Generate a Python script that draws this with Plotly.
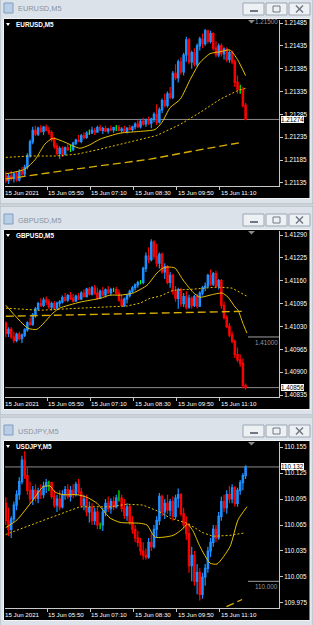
import plotly.graph_objects as go

W, H = 313, 625
def px(x): return x / W
def py(y): return 1 - y / H

# ---------------- data ----------------
window_titles = ["EURUSD,M5", "GBPUSD,M5", "USDJPY,M5"]
time_labels = ["15 Jun 2021", "15 Jun 05:50", "15 Jun 07:10", "15 Jun 08:30", "15 Jun 09:50", "15 Jun 11:10"]
time_label_bars = [0, 16, 32, 48, 64, 80]

# EURUSD M5, values in points (0.00001) above 1.21000
eur_base, eur_unit = 1.21000, 0.00001
eur_open = [150,140,150,145,155,142,160,155,170,195, 225,250,242,255,248,257,250,245,230,215,
            200,210,198,212,208,208,222,229,226,238, 235,244,244,250,246,256,250,254,249,253,
            251,256,256,250,253,248,255,252,258,264, 258,270,264,272,266,275,285,268,295,315,
            305,330,322,375,365,400,378,415,448,400, 420,395,435,450,440,468,445,462,430,415,
            435,418,428,405,420,400,355,340,340,305]
eur_high = [160,155,162,158,160,165,170,175,200,230, 258,260,258,262,260,263,258,250,235,222,
            215,215,215,220,218,225,232,240,242,246, 248,252,258,256,260,262,258,260,256,261,
            258,262,262,257,260,257,262,260,268,272, 275,278,276,280,278,290,307,300,320,330,
            335,345,380,395,405,410,420,455,452,425, 430,440,455,462,472,470,468,465,445,440,
            440,432,432,425,425,405,370,350,345,310]
eur_low = [135,133,140,136,138,138,150,150,165,190, 220,238,238,245,240,248,240,225,210,195,
           188,192,195,205,203,205,218,224,222,230, 232,240,243,240,245,248,242,246,243,248,
           245,249,248,244,246,243,250,247,252,255, 254,260,258,262,255,268,262,265,288,300,
           300,318,318,360,355,372,370,400,395,385, 390,390,425,430,435,440,440,425,410,410,
           412,405,400,398,395,345,330,330,300,272]
eur_close = [140,150,145,155,142,160,155,170,195,225, 250,242,255,248,257,250,245,230,215,200,
             210,198,212,208,208,222,229,226,238,235, 244,244,250,246,256,250,254,249,253,251,
             256,256,250,253,248,255,252,258,264,258, 270,264,272,266,275,285,268,295,315,305,
             330,322,375,365,400,378,415,448,400,420, 395,435,450,440,468,445,462,430,415,435,
             418,428,405,420,400,355,340,340,305,274]
eur_fast_bar = [0, 7, 11, 14.5, 17.5, 22, 27.5, 31, 35, 42.4, 50, 55.4, 58, 61, 64.7, 68.4, 72, 75.8, 79.5, 83.2, 86, 89]
eur_fast_pts = [155, 165, 187, 220, 233, 224, 211, 218, 231, 244, 248, 252, 268, 300, 318, 361, 398, 418, 422, 426, 405, 370]
eur_mid_bar = [0, 9, 18.3, 26.4, 35, 47.2, 56, 64.7, 72, 79.5, 86, 89]
eur_mid_pts = [191, 194, 194, 198, 209, 226, 239, 263, 289, 318, 337, 342]
eur_slow_bar = [0, 5.3, 22.7, 38.7, 53.5, 69.5, 87.7]
eur_slow_pts = [144, 148, 163, 176, 187, 205, 224]
eur_ticks = [1.21135, 1.21185, 1.21235, 1.21285, 1.21335, 1.21385, 1.21435, 1.21485]
eur_tick_text = ["1.21135", "1.21185", "1.21235", "1.21285", "1.21335", "1.21385", "1.21435", "1.21485"]
eur_range = [1.211284, 1.214916]
eur_bid, eur_bid_text = 1.21274, "1.21274"
eur_level, eur_level_text = 1.21500, "1.21500"

# GBPUSD M5, points above 1.40800
gbp_base, gbp_unit = 1.40800, 0.00001
gbp_open = [239,210,222,200,190,208,195,205,220,240, 236,262,280,295,290,305,300,285,295,282,
            296,300,312,305,318,310,302,316,308,325, 315,336,322,340,325,310,330,320,334,326,
            335,335,325,305,290,308,318,330,340,348, 355,355,395,430,420,470,430,410,435,385,
            400,355,375,330,310,335,295,315,285,310, 290,315,288,325,340,345,375,350,380,345,
            360,290,255,230,205,188,150,135,125,62]
gbp_high = [245,228,228,215,212,215,210,225,245,255, 268,285,300,310,312,315,308,300,302,300,
            305,318,325,322,328,322,320,325,330,335, 340,342,345,348,340,335,342,338,345,340,
            340,342,335,320,312,322,335,345,352,360, 362,400,440,455,478,475,465,440,440,410,
            405,385,380,345,340,340,325,330,320,315, 320,322,330,345,355,380,392,385,388,365,
            365,300,262,240,215,192,170,150,139,68]
gbp_low = [199,200,195,182,185,190,183,200,215,232, 232,255,275,285,285,290,280,275,278,278,
           285,295,300,300,305,298,300,305,305,312, 312,318,318,320,305,308,315,312,322,318,
           328,320,300,285,285,295,312,325,332,340, 350,350,385,410,415,420,400,395,380,365,
           350,340,320,300,280,285,285,278,280,280, 285,282,285,318,330,340,345,345,340,335,
           280,250,225,200,182,140,128,115,54,50]
gbp_close = [210,222,200,190,208,195,205,220,240,236, 262,280,295,290,305,300,285,295,282,296,
             300,312,305,318,310,302,316,308,325,315, 336,322,340,325,310,330,320,334,326,335,
             335,325,305,290,308,318,330,340,348,355, 355,395,430,420,470,430,410,435,385,400,
             355,375,330,310,335,295,315,285,310,290, 315,288,325,340,345,375,350,380,345,360,
             290,255,230,205,188,150,135,125,62,56]
gbp_fast_bar = [0, 8.2, 11.6, 17.5, 20, 27.5, 35, 38.7, 42.4, 47.2, 52.4, 56.1, 58.4, 60.2, 62.8, 65.8, 69.5, 72.1, 75.8, 80.3, 82.5, 85.1, 86.2, 88, 89.5]
gbp_fast_pts = [290, 225, 222, 268, 282, 299, 310, 319, 319, 325, 347, 382, 396, 399, 396, 362, 327, 313, 319, 325, 313, 285, 276, 239, 211]
gbp_mid_bar = [0, 12.7, 27.5, 45, 49.8, 53.5, 57.2, 62.1, 69.5, 78.4, 84, 89.5]
gbp_mid_pts = [282, 276, 282, 288, 296, 310, 316, 333, 336, 342, 339, 316]
gbp_slow_bar = [0, 20, 42.4, 64.7, 78.4, 87.7]
gbp_slow_pts = [259, 262, 265, 268, 270, 273]
gbp_ticks = [1.40835, 1.40900, 1.40965, 1.41030, 1.41095, 1.41160, 1.41225, 1.41290]
gbp_tick_text = ["1.40835", "1.40900", "1.40965", "1.41030", "1.41095", "1.41160", "1.41225", "1.41290"]
gbp_range = [1.408293, 1.413014]
gbp_bid, gbp_bid_text = 1.40856, "1.40856"
gbp_level, gbp_level_text = 1.41000, "1.41000"

# USDJPY M5, points (0.001) above 109.900
jpy_base, jpy_unit = 109.900, 0.001
jpy_open = [190,170,160,172,188,200,215,240,222,205, 195,205,196,204,200,210,214,214,198,188,
            195,186,200,206,198,205,200,212,203,188, 195,180,185,170,180,165,165,180,190,184,
            192,186,196,196,184,176,186,168,160,150, 145,135,130,128,145,140,160,170,198,180,
            190,182,192,175,196,200,178,165,155,118, 130,100,110,85,105,115,135,145,160,150,
            175,192,185,200,195,208,190,205,214,222]
jpy_high = [197,185,175,192,205,220,245,250,232,215, 210,212,208,212,215,218,216,215,205,200,
            205,205,210,212,210,212,215,218,208,200, 200,192,190,185,185,168,185,195,198,196,
            198,200,205,200,195,190,188,175,165,158, 150,145,138,150,155,165,175,202,200,195,
            200,195,198,200,207,202,185,175,167,140, 135,120,115,110,120,140,150,165,165,180,
            198,200,205,210,212,210,208,217,225,234]
jpy_low = [165,152,150,168,182,194,212,218,200,190, 188,192,190,195,196,202,204,195,185,180,
           182,184,194,195,192,196,198,200,185,182, 175,168,165,165,160,160,158,175,180,178,
           182,184,192,180,172,170,165,155,145,140, 130,125,125,126,135,138,150,165,175,172,
           178,175,170,172,185,175,160,148,110,100, 95,85,78,80,95,110,128,140,145,148,
           170,180,178,190,190,186,186,200,205,218]
jpy_close = [170,160,172,188,200,215,240,222,205,195, 205,196,204,200,210,214,214,198,188,195,
             186,200,206,198,205,200,212,203,188,195, 180,185,170,180,165,165,180,190,184,192,
             186,196,196,184,176,186,168,160,150,145, 135,130,128,145,140,160,170,198,180,190,
             182,192,175,196,200,178,165,155,118,130, 100,110,85,105,115,135,145,160,150,175,
             192,185,200,195,208,190,205,214,222,232]
jpy_fast_bar = [0, 4.2, 10.1, 13.8, 16.4, 18.3, 21.2, 26.4, 30.1, 33.9, 36.1, 38.7, 42.4, 49.8, 52.4, 55.4, 62.1, 65.4, 67.5, 69.5, 72.1, 75.8, 78.4, 83.2, 86.2, 89.5]
jpy_fast_pts = [162, 171, 194, 209, 210, 203, 200, 200, 197, 190, 182, 173, 168, 167, 165, 151, 153, 160, 166, 158, 140, 121, 120, 140, 171, 186]
jpy_mid_bar = [0, 1.6, 15.3, 27.5, 38.7, 45, 50.9, 57.2, 61, 67.3, 73.2, 76.9, 83.2, 88.8]
jpy_mid_pts = [154, 156, 172, 186, 186, 189, 188, 180, 173, 167, 156, 152, 153, 156]
jpy_slow_bar = [74, 80.6, 87.7]
jpy_slow_pts = [58, 69, 79]
jpy_ticks = [109.975, 110.005, 110.035, 110.065, 110.095, 110.125, 110.155]
jpy_tick_text = ["109.975", "110.005", "110.035", "110.065", "110.095", "110.125", "110.155"]
jpy_range = [109.9692, 110.1608]
jpy_bid, jpy_bid_text = 110.132, "110.132"
jpy_level, jpy_level_text = 110.000, "110.000"

# ---------------- styling ----------------
BULL = "#1E90FF"
BEAR = "#FF0000"
DOJI = "#00FF00"
MA_FAST = "#E8C000"
MA_MID = "#E8C000"
MA_SLOW = "#D9AE00"
AXIS = "#C8C8C8"
FONT = "Liberation Sans"
FRAME = "#DCE2E9"
GAP = "#F2F2F2"

windows = [
    dict(title=window_titles[0], base=eur_base, unit=eur_unit, o=eur_open, h=eur_high, l=eur_low, c=eur_close,
         fast=(eur_fast_bar, eur_fast_pts), mid=(eur_mid_bar, eur_mid_pts), slow=(eur_slow_bar, eur_slow_pts),
         ticks=eur_ticks, tick_text=eur_tick_text, rng=eur_range, bid=eur_bid, bid_text=eur_bid_text,
         level=eur_level, level_text=eur_level_text),
    dict(title=window_titles[1], base=gbp_base, unit=gbp_unit, o=gbp_open, h=gbp_high, l=gbp_low, c=gbp_close,
         fast=(gbp_fast_bar, gbp_fast_pts), mid=(gbp_mid_bar, gbp_mid_pts), slow=(gbp_slow_bar, gbp_slow_pts),
         ticks=gbp_ticks, tick_text=gbp_tick_text, rng=gbp_range, bid=gbp_bid, bid_text=gbp_bid_text,
         level=gbp_level, level_text=gbp_level_text),
    dict(title=window_titles[2], base=jpy_base, unit=jpy_unit, o=jpy_open, h=jpy_high, l=jpy_low, c=jpy_close,
         fast=(jpy_fast_bar, jpy_fast_pts), mid=(jpy_mid_bar, jpy_mid_pts), slow=(jpy_slow_bar, jpy_slow_pts),
         ticks=jpy_ticks, tick_text=jpy_tick_text, rng=jpy_range, bid=jpy_bid, bid_text=jpy_bid_text,
         level=jpy_level, level_text=jpy_level_text),
]

fig = go.Figure()
shapes, annotations = [], []
layout_axes = {}
STEP = 211

for k, wdef in enumerate(windows):
    dy = STEP * k
    xa = "x" if k == 0 else f"x{k+1}"
    ya = "y" if k == 0 else f"y{k+1}"
    xkey = "xaxis" if k == 0 else f"xaxis{k+1}"
    ykey = "yaxis" if k == 0 else f"yaxis{k+1}"
    top, bottom = 20 + dy, 186 + dy
    conv = lambda arr, b=wdef["base"], u=wdef["unit"]: [b + v * u for v in arr]
    o, h, l, c = conv(wdef["o"]), conv(wdef["h"]), conv(wdef["l"]), conv(wdef["c"])
    n = len(o)
    normal = [i for i in range(n) if wdef["o"][i] != wdef["c"][i]]
    doji = [i for i in range(n) if wdef["o"][i] == wdef["c"][i]]

    # window chrome (below traces)
    shapes.append(dict(type="rect", xref="paper", yref="paper", layer="below",
                       x0=px(0), x1=px(313), y0=py(-5 + dy), y1=py(204 + dy),
                       fillcolor=FRAME, line=dict(color="#A7B1BC", width=1)))
    shapes.append(dict(type="rect", xref="paper", yref="paper", layer="below",
                       x0=px(3.5), x1=px(310), y0=py(18.5 + dy), y1=py(198.5 + dy),
                       fillcolor="black", line=dict(color="#F4F4F4", width=1)))
    # title icon
    shapes.append(dict(type="rect", xref="paper", yref="paper", layer="below",
                       x0=px(4), x1=px(13), y0=py(3 + dy), y1=py(13 + dy),
                       fillcolor="#B9CEE4", line=dict(color="#7F9CBF", width=1)))
    # title buttons
    for bx0, bx1 in [(243, 264), (266, 287), (289, 310)]:
        shapes.append(dict(type="rect", xref="paper", yref="paper", layer="below",
                           x0=px(bx0), x1=px(bx1), y0=py(3 + dy), y1=py(15 + dy),
                           fillcolor="#EEF1F4", line=dict(color="#9BA6B2", width=1)))
    shapes.append(dict(type="rect", xref="paper", yref="paper", layer="below",
                       x0=px(250), x1=px(258), y0=py(10 + dy), y1=py(12 + dy),
                       fillcolor="#6E7884", line=dict(width=0)))
    shapes.append(dict(type="rect", xref="paper", yref="paper", layer="below",
                       x0=px(273), x1=px(280), y0=py(6 + dy), y1=py(12 + dy),
                       fillcolor="rgba(0,0,0,0)", line=dict(color="#6E7884", width=1)))
    for (a0, b0, a1, b1) in [(296, 5.5, 303, 12.5), (296, 12.5, 303, 5.5)]:
        shapes.append(dict(type="line", xref="paper", yref="paper", layer="below",
                           x0=px(a0), y0=py(b0 + dy), x1=px(a1), y1=py(b1 + dy),
                           line=dict(color="#6E7884", width=1.5)))
    annotations.append(dict(text=wdef["title"], xref="paper", yref="paper", x=px(16), y=py(9 + dy),
                            xanchor="left", yanchor="middle", showarrow=False,
                            font=dict(family=FONT, size=7.4, color="#8593A3")))
    # chart label
    shapes.append(dict(type="path", xref="paper", yref="paper",
                       path=f"M {px(6)},{py(23 + dy)} L {px(10)},{py(23 + dy)} L {px(8)},{py(26 + dy)} Z",
                       fillcolor="white", line=dict(width=0)))
    annotations.append(dict(text="<b>" + wdef["title"] + "</b>", xref="paper", yref="paper", x=px(13.5), y=py(25 + dy),
                            xanchor="left", yanchor="middle", showarrow=False,
                            font=dict(family=FONT, size=6.4, color="white")))
    # shift marker
    shapes.append(dict(type="path", xref="paper", yref="paper",
                       path=f"M {px(248)},{py(top)} L {px(255)},{py(top)} L {px(251.5)},{py(top + 3.5)} Z",
                       fillcolor="#8A8A8A", line=dict(width=0)))

    # bid line
    shapes.append(dict(type="line", xref=f"{xa} domain", yref=ya, x0=0, x1=1,
                       y0=wdef["bid"], y1=wdef["bid"], line=dict(color="#8C8C8C", width=1), layer="below"))
    # level line segment and its label
    lo, hi = wdef["rng"]
    if lo <= wdef["level"] <= hi:
        shapes.append(dict(type="line", xref="paper", yref=ya, x0=px(248), x1=px(279),
                           y0=wdef["level"], y1=wdef["level"], line=dict(color="#A0A0A0", width=1)))
        annotations.append(dict(text=wdef["level_text"], xref="paper", yref=ya, x=px(280), y=wdef["level"],
                                yshift=-5.5, xanchor="right", yanchor="middle", showarrow=False,
                                font=dict(family=FONT, size=6.3, color="#9A9A9A")))
    else:
        # line lies just above the visible range; MT4 still shows its label at the top edge
        level_px = top + (hi - wdef["level"]) / (hi - lo) * (bottom - top)
        annotations.append(dict(text=wdef["level_text"], xref="paper", yref="paper", x=px(280),
                                y=py(level_px + 5.5), xanchor="right", yanchor="middle", showarrow=False,
                                font=dict(family=FONT, size=6.3, color="#9A9A9A")))
    # bid label
    annotations.append(dict(text=wdef["bid_text"], xref="paper", yref=ya, x=px(281), y=wdef["bid"],
                            xanchor="left", yanchor="middle", showarrow=False, bgcolor="white",
                            borderpad=0, borderwidth=0,
                            font=dict(family=FONT, size=6.3, color="black")))
    # time labels (left-aligned at their tick marks)
    for b, t in zip(time_label_bars, time_labels):
        annotations.append(dict(text=t, xref=xa, yref="paper", x=b, y=py(bottom + 6.5),
                                xanchor="left", yanchor="middle", showarrow=False, xshift=-2.6,
                                font=dict(family=FONT, size=6.2, color="white")))

    # traces
    fig.add_trace(go.Scatter(x=wdef["slow"][0], y=conv(wdef["slow"][1]), mode="lines",
                             line=dict(color=MA_SLOW, width=1.3, dash="8px,4px"),
                             xaxis=xa, yaxis=ya, showlegend=False, hoverinfo="skip"))
    fig.add_trace(go.Scatter(x=wdef["mid"][0], y=conv(wdef["mid"][1]), mode="lines",
                             line=dict(color=MA_MID, width=1, dash="2px,2px"),
                             xaxis=xa, yaxis=ya, showlegend=False, hoverinfo="skip"))
    fig.add_trace(go.Candlestick(x=normal, open=[o[i] for i in normal], high=[h[i] for i in normal],
                                 low=[l[i] for i in normal], close=[c[i] for i in normal],
                                 increasing=dict(line=dict(color=BULL, width=1.2), fillcolor=BULL),
                                 decreasing=dict(line=dict(color=BEAR, width=1.2), fillcolor=BEAR),
                                 whiskerwidth=0, xaxis=xa, yaxis=ya, showlegend=False, hoverinfo="skip"))
    if doji:
        fig.add_trace(go.Candlestick(x=doji, open=[o[i] for i in doji], high=[h[i] for i in doji],
                                     low=[l[i] for i in doji], close=[c[i] for i in doji],
                                     increasing=dict(line=dict(color=DOJI, width=1.2), fillcolor=DOJI),
                                     decreasing=dict(line=dict(color=DOJI, width=1.2), fillcolor=DOJI),
                                     whiskerwidth=0, xaxis=xa, yaxis=ya, showlegend=False, hoverinfo="skip"))
    fig.add_trace(go.Scatter(x=wdef["fast"][0], y=conv(wdef["fast"][1]), mode="lines",
                             line=dict(color=MA_FAST, width=1, shape="spline", smoothing=0.6),
                             xaxis=xa, yaxis=ya, showlegend=False, hoverinfo="skip"))

    layout_axes[xkey] = dict(domain=[px(5), px(279)], range=[-0.3, 101.4], anchor=ya,
                             showgrid=False, zeroline=False, showline=True, linecolor=AXIS, linewidth=1,
                             ticks="outside", ticklen=3, tickcolor=AXIS, tickwidth=1,
                             tickvals=[b - 0.55 for b in time_label_bars], showticklabels=False,
                             rangeslider=dict(visible=False), fixedrange=True, automargin=False)
    layout_axes[ykey] = dict(domain=[py(bottom), py(top)], range=wdef["rng"], anchor=xa, side="right",
                             showgrid=False, zeroline=False, showline=True, linecolor=AXIS, linewidth=1,
                             ticks="outside", ticklen=3, tickcolor=AXIS, tickwidth=1,
                             tickvals=wdef["ticks"], ticktext=wdef["tick_text"],
                             tickfont=dict(family=FONT, size=6.3, color="white"),
                             fixedrange=True, automargin=False)

fig.update_layout(width=W, height=H, margin=dict(l=0, r=0, t=0, b=0),
                  paper_bgcolor=GAP, plot_bgcolor="black",
                  shapes=shapes, annotations=annotations, showlegend=False,
                  **layout_axes)
fig.write_html("out.html")
